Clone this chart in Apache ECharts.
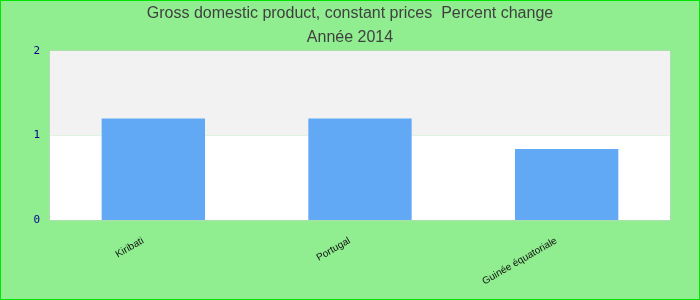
<!DOCTYPE html>
<html>
<head>
<meta charset="utf-8">
<script src="https://cdn.jsdelivr.net/npm/echarts@6/dist/echarts.min.js"></script>
<style>
html,body{margin:0;padding:0;}
#c{width:700px;height:300px;box-sizing:border-box;border:1px solid #00e600;}
</style>
</head>
<body>
<div id="c"></div>
<script>
const titleText = "Gross domestic product, constant prices  Percent change";
const subtitleText = "Année 2014";
const categories = ["Kiribati", "Portugal", "Guinée équatoriale"];
const values = [1.2, 1.2, 0.84];
const yTicks = [0, 1, 2];

const chart = echarts.init(document.getElementById('c'), null, {renderer: 'canvas'});
chart.setOption({
  backgroundColor: '#90ee90',
  animation: false,
  title: {
    text: titleText,
    subtext: subtitleText,
    left: 'center',
    top: 0,
    itemGap: 8,
    textStyle: {fontFamily: 'Liberation Sans', fontSize: 16, fontWeight: 'normal', color: '#404040'},
    subtextStyle: {fontFamily: 'Liberation Sans', fontSize: 16, color: '#404040'}
  },
  grid: {left: 49, right: 29, top: 50, bottom: 79, show: true, borderColor: '#cccccc', borderWidth: 1, backgroundColor: 'transparent'},
  xAxis: {
    type: 'category',
    data: categories,
    axisLine: {show: false},
    axisTick: {show: false},
    axisLabel: {rotate: 30, fontFamily: 'Liberation Sans', fontSize: 10, color: '#111', margin: 14, interval: 0, padding: [0, 12, 0, 0]}
  },
  yAxis: {
    type: 'value',
    min: yTicks[0],
    max: yTicks[yTicks.length - 1],
    interval: 1,
    axisLine: {show: false},
    axisTick: {show: false},
    splitLine: {show: false},
    splitArea: {show: true, areaStyle: {color: ['#ffffff', '#f2f2f2']}},
    axisLabel: {fontFamily: 'DejaVu Sans Mono', fontSize: 11, color: '#00008b', margin: 10}
  },
  series: [{
    type: 'bar',
    data: values,
    barWidth: '50%',
    itemStyle: {color: '#61a9f5'}
  }]
});
</script>
</body>
</html>
